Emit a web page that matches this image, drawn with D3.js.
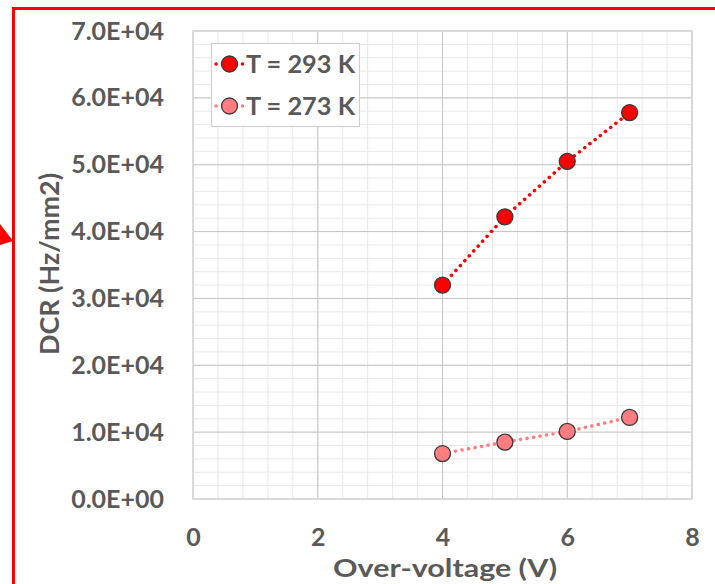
<!DOCTYPE html>
<html>
<head>
<meta charset="utf-8">
<script src="https://cdn.jsdelivr.net/npm/d3@7"></script>
<style>
  body { margin: 0; background: #fff; }
  svg text { font-family: Lato, "Liberation Sans", sans-serif; font-weight: bold; fill: #595959; }
</style>
</head>
<body>
<svg id="chart" width="715" height="584"></svg>
<script>
// data
const overVoltage = [4, 5, 6, 7];
const dcr293 = [32000, 42200, 50500, 57800];
const dcr273 = [6800, 8500, 10100, 12200];
const seriesNames = ["T = 293 K", "T = 273 K"];
const xTicks = [0, 2, 4, 6, 8];
const yTicks = [0, 10000, 20000, 30000, 40000, 50000, 60000, 70000];

const colors = ["#ff0000", "#ff7c80"];

const svg = d3.select("#chart");

// red frame + arrow tip from the slide
svg.append("rect")
  .attr("x", 13.5).attr("y", 8.5)
  .attr("width", 800).attr("height", 700)
  .attr("fill", "none")
  .attr("stroke", "#ff0000")
  .attr("stroke-width", 3);
svg.append("polygon")
  .attr("points", "0,224 13,241 0,245")
  .attr("fill", "#ff0000");

const plotL = 193, plotR = 692, plotT = 31, plotB = 499;

const x = d3.scaleLinear().domain([0, 8]).range([plotL, plotR]);
const y = d3.scaleLinear().domain([0, 70000]).range([plotB, plotT]);

// minor grid
const minorX = d3.range(0, 8.001, 0.4);
const minorY = d3.range(0, 70001, 2000);
svg.append("g")
  .selectAll("line")
  .data(minorX)
  .enter().append("line")
  .attr("x1", d => x(d)).attr("x2", d => x(d))
  .attr("y1", plotT).attr("y2", plotB)
  .attr("stroke", "#e8e8e8").attr("stroke-width", 1);
svg.append("g")
  .selectAll("line")
  .data(minorY)
  .enter().append("line")
  .attr("y1", d => y(d)).attr("y2", d => y(d))
  .attr("x1", plotL).attr("x2", plotR)
  .attr("stroke", "#e8e8e8").attr("stroke-width", 1);

// major grid
svg.append("g")
  .selectAll("line")
  .data(xTicks)
  .enter().append("line")
  .attr("x1", d => x(d)).attr("x2", d => x(d))
  .attr("y1", plotT).attr("y2", plotB)
  .attr("stroke", "#c4c4c4").attr("stroke-width", 1);
svg.append("g")
  .selectAll("line")
  .data(yTicks)
  .enter().append("line")
  .attr("y1", d => y(d)).attr("y2", d => y(d))
  .attr("x1", plotL).attr("x2", plotR)
  .attr("stroke", "#c4c4c4").attr("stroke-width", 1);

// plot border
svg.append("rect")
  .attr("x", plotL).attr("y", plotT)
  .attr("width", plotR - plotL).attr("height", plotB - plotT)
  .attr("fill", "none")
  .attr("stroke", "#d9d9d9").attr("stroke-width", 1.5);

// axes (labels only)
const fmt = d => d.toExponential(1).toUpperCase().replace(/E([+-])(\d)$/, "E$10$2");

const xAxis = svg.append("g")
  .attr("transform", `translate(0, ${plotB})`)
  .call(d3.axisBottom(x).tickValues(xTicks).tickSize(0).tickPadding(29).tickFormat(d3.format("d")));
xAxis.select(".domain").remove();
xAxis.selectAll("text").attr("font-size", 25).attr("fill", "#595959");

const yAxis = svg.append("g")
  .attr("transform", `translate(${plotL}, 0)`)
  .call(d3.axisLeft(y).tickValues(yTicks).tickSize(0).tickPadding(29).tickFormat(fmt));
yAxis.select(".domain").remove();
yAxis.selectAll("text").attr("font-size", 25).attr("fill", "#595959");

// axis titles
svg.append("text")
  .attr("x", 445)
  .attr("y", 577)
  .attr("text-anchor", "middle")
  .attr("font-size", 25)
  .attr("textLength", 224)
  .attr("lengthAdjust", "spacingAndGlyphs")
  .text("Over-voltage (V)");
svg.append("text")
  .attr("transform", `translate(59, 264) rotate(-90)`)
  .attr("text-anchor", "middle")
  .attr("font-size", 26)
  .attr("textLength", 182)
  .attr("lengthAdjust", "spacingAndGlyphs")
  .text("DCR (Hz/mm2)");

// series
const line = d3.line()
  .x(d => x(d[0]))
  .y(d => y(d[1]));

[dcr293, dcr273].forEach((vals, i) => {
  const pts = overVoltage.map((v, j) => [v, vals[j]]);
  svg.append("path")
    .datum(pts)
    .attr("d", line)
    .attr("fill", "none")
    .attr("stroke", colors[i])
    .attr("stroke-width", 3.5)
    .attr("stroke-linecap", "round")
    .attr("stroke-dasharray", "0.1 6.5");
  svg.append("g")
    .selectAll("circle")
    .data(pts)
    .enter().append("circle")
    .attr("cx", d => x(d[0]))
    .attr("cy", d => y(d[1]))
    .attr("r", 8)
    .attr("fill", colors[i])
    .attr("stroke", "#3a3a3a")
    .attr("stroke-width", 1.3);
});

// legend
const legend = svg.append("g");
legend.append("rect")
  .attr("x", 211.5).attr("y", 43.5)
  .attr("width", 148).attr("height", 83)
  .attr("fill", "#fff")
  .attr("stroke", "#d0d0d0").attr("stroke-width", 1.2);

seriesNames.forEach((name, i) => {
  const ly = 64 + i * 42;
  legend.append("line")
    .attr("x1", 216).attr("x2", 243)
    .attr("y1", ly).attr("y2", ly)
    .attr("stroke", colors[i])
    .attr("stroke-width", 3.5)
    .attr("stroke-linecap", "round")
    .attr("stroke-dasharray", "0.1 6.5");
  legend.append("circle")
    .attr("cx", 229.5).attr("cy", ly)
    .attr("r", 8)
    .attr("fill", colors[i])
    .attr("stroke", "#3a3a3a")
    .attr("stroke-width", 1.3);
  legend.append("text")
    .attr("x", 246)
    .attr("y", ly)
    .attr("dy", "0.35em")
    .attr("font-size", 25)
    .attr("textLength", 109)
    .attr("lengthAdjust", "spacingAndGlyphs")
    .text(name);
});
</script>
</body>
</html>
